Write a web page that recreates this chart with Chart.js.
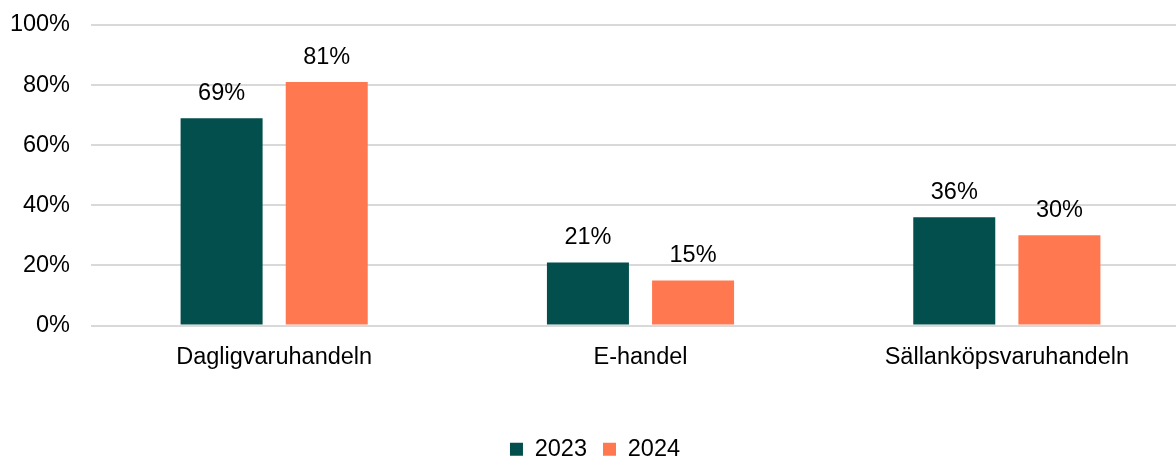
<!DOCTYPE html>
<html>
<head>
<meta charset="utf-8">
<script src="https://cdn.jsdelivr.net/npm/chart.js@4/dist/chart.umd.min.js"></script>
<style>
  html, body { margin: 0; padding: 0; background: #fff; overflow: hidden; }
  #wrap { width: 1176px; height: 457px; overflow: hidden; }
</style>
</head>
<body>
<div id="wrap"><canvas id="chart" width="1190" height="471"></canvas></div>
<script>
const categories = ['Dagligvaruhandeln', 'E-handel', 'Sällanköpsvaruhandeln'];
const values2023 = [69, 21, 36];
const values2024 = [81, 15, 30];
const seriesLabels = ['2023', '2024'];
const yTicks = [0, 20, 40, 60, 80, 100];

const fontFamily = '"Liberation Sans", Arial, sans-serif';
const fontSize = 23.5;

// value labels above each bar
const barLabels = {
    id: 'barLabels',
    afterDatasetsDraw(chart) {
        const ctx = chart.ctx;
        ctx.save();
        ctx.font = fontSize + 'px ' + fontFamily;
        ctx.fillStyle = '#000';
        ctx.textAlign = 'center';
        ctx.textBaseline = 'middle';
        chart.data.datasets.forEach((ds, i) => {
            chart.getDatasetMeta(i).data.forEach((bar, j) => {
                ctx.fillText(ds.data[j] + '%', bar.x, bar.y - 25);
            });
        });
        ctx.restore();
    }
};

new Chart(document.getElementById('chart'), {
    type: 'bar',
    data: {
        labels: categories,
        datasets: [{
            label: seriesLabels[0],
            data: values2023,
            backgroundColor: '#024F4D'
        }, {
            label: seriesLabels[1],
            data: values2024,
            backgroundColor: '#FF7850'
        }]
    },
    options: {
        responsive: false,
        animation: false,
        categoryPercentage: 0.574,
        barPercentage: 0.78,
        layout: { padding: { top: 25, bottom: 0, left: 0, right: 0 } },
        plugins: {
            tooltip: { enabled: false },
            legend: {
                position: 'bottom',
                labels: {
                    font: { family: fontFamily, size: fontSize },
                    color: '#000',
                    boxWidth: 13,
                    boxHeight: 13,
                    padding: 16
                }
            }
        },
        scales: {
            x: {
                grid: { display: false },
                border: { display: false },
                ticks: {
                    font: { family: fontFamily, size: fontSize },
                    color: '#000',
                    padding: 10
                },
                afterFit(scale) {
                    scale.height = 96;
                    scale.paddingLeft = 0;
                    scale.paddingRight = 0;
                }
            },
            y: {
                min: 0,
                max: 100,
                afterBuildTicks(scale) { scale.ticks = yTicks.map(v => ({ value: v })); },
                grid: { color: '#D9D9D9', lineWidth: 2, drawTicks: false },
                border: { display: false },
                ticks: {
                    font: { family: fontFamily, size: fontSize },
                    color: '#000',
                    padding: 21,
                    callback: v => v + '%'
                },
                afterFit(scale) {
                    scale.width = 91;
                    scale.paddingTop = 0;
                    scale.paddingBottom = 0;
                }
            }
        }
    },
    plugins: [barLabels]
});
</script>
</body>
</html>
